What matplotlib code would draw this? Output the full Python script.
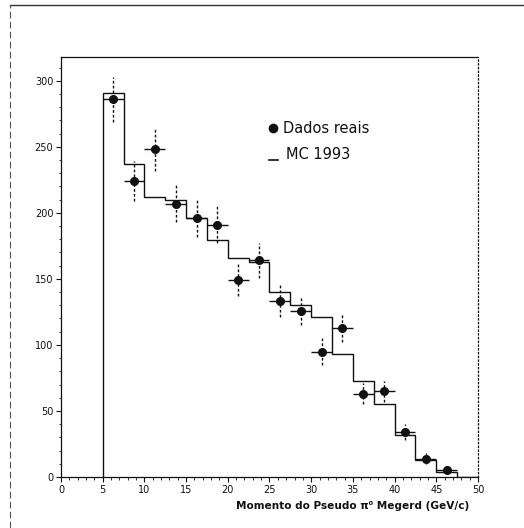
import numpy as np
import matplotlib
matplotlib.use("Agg")
import matplotlib.pyplot as plt
from matplotlib.lines import Line2D
from matplotlib.ticker import MultipleLocator

# Measured spectrum (bin centres, counts, statistical errors)
x_centres = [6.25, 8.75, 11.25, 13.75, 16.25, 18.75, 21.25, 23.75, 26.25,
             28.75, 31.25, 33.75, 36.25, 38.75, 41.25, 43.75, 46.25]
dados = [286, 224, 248, 207, 196, 191, 149, 164, 133,
         126, 95, 113, 63, 65, 34, 14, 5]
dados_err = [17, 15, 16, 14, 14, 14, 12, 13, 12,
             11, 10, 11, 8, 8, 6, 4, 2]
half_bin = 1.25

# Monte Carlo 1993 histogram
mc_edges = [5.0, 7.5, 10.0, 12.5, 15.0, 17.5, 20.0, 22.5, 25.0, 27.5,
            30.0, 32.5, 35.0, 37.5, 40.0, 42.5, 45.0, 47.5]
mc_1993 = [291, 237, 212, 210, 196, 179.5, 166, 163, 140,
           130, 121, 93, 73, 55.5, 32, 12.5, 3.6]

xlabel = "Momento do Pseudo \u03c0\u2070 Megerd (GeV/c)"
legend_labels = ["Dados reais", "MC 1993"]

plt.rcParams["font.family"] = ["DejaVu Sans"]
ink = "#111111"

fig = plt.figure(figsize=(5.24, 5.28), dpi=100)
ax = fig.add_axes([0.1164, 0.0966, 0.7958, 0.7955])

ax.stairs(mc_1993, mc_edges, color=ink, lw=1.0, baseline=0)
ax.plot([mc_edges[-1], 50], [0, 0], color=ink, lw=1.0)

eb = ax.errorbar(x_centres, dados, yerr=dados_err, xerr=half_bin,
                 fmt="o", color=ink, ms=5.5, elinewidth=1.0, capsize=0)
# vertical error bars drawn dashed, horizontal ones solid
eb[2][1].set_linestyle((0, (2, 1.5)))

ax.set_xlim(0, 50)
ax.set_ylim(0, 318)
ax.xaxis.set_major_locator(MultipleLocator(5))
ax.xaxis.set_minor_locator(MultipleLocator(1))
ax.yaxis.set_major_locator(MultipleLocator(50))
ax.yaxis.set_minor_locator(MultipleLocator(10))
ax.tick_params(which="major", direction="out", length=3.5, width=0.8,
               labelsize=7, pad=2, colors=ink)
ax.tick_params(which="minor", direction="out", length=1.8, width=0.6, colors=ink)
for s in ax.spines.values():
    s.set_linewidth(0.9)
    s.set_color(ink)
ax.spines["right"].set_linestyle((0, (1, 2)))

ax.set_xlabel(xlabel, fontsize=7.6, fontweight="bold", color=ink)
ax.xaxis.set_label_coords(0.978, -0.058)
ax.xaxis.label.set_horizontalalignment("right")

# legend drawn inside the plot area
ax.plot([25.4], [264], "o", color=ink, ms=6, clip_on=False)
ax.text(26.6, 264, legend_labels[0], fontsize=10.5, va="center", ha="left",
        color=ink)
ax.plot([25.0, 26.0], [240, 240], color=ink, lw=1.2)
ax.text(27.0, 244, legend_labels[1], fontsize=10.5, va="center", ha="left",
        color=ink)

# page frame
fig.add_artist(Line2D([10 / 524, 1.0], [1 - 5 / 528, 1 - 5 / 528],
                      transform=fig.transFigure, color="#333333", lw=1.0))
fig.add_artist(Line2D([10 / 524, 10 / 524], [0.0, 1 - 5 / 528],
                      transform=fig.transFigure, color="#555555", lw=0.8,
                      linestyle=(0, (6, 3))))

fig.savefig("out.png", dpi=100, facecolor="white")
